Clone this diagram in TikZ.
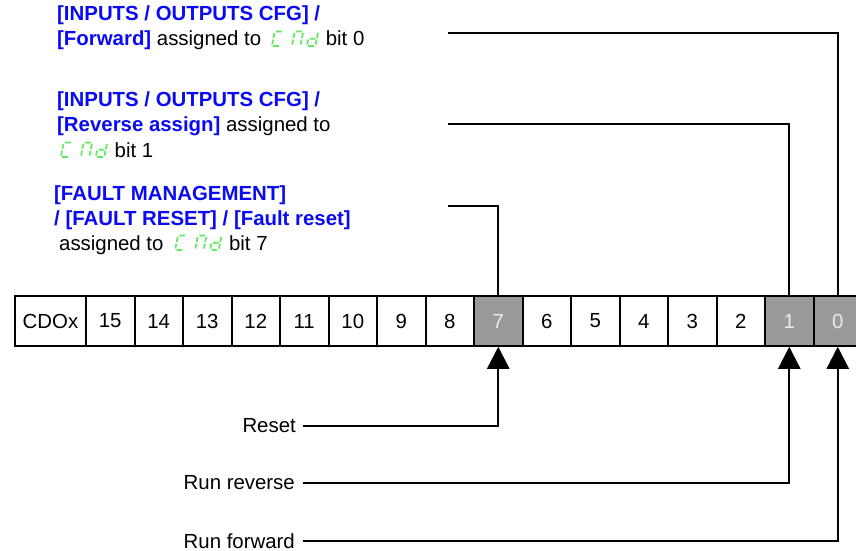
\documentclass[tikz,border=0pt]{standalone}
\usepackage{fontspec}
\setmainfont{Liberation Sans}
\usetikzlibrary{arrows.meta}
\definecolor{ablue}{RGB}{10,10,245}
\definecolor{segg}{RGB}{95,235,95}
\definecolor{cellgray}{RGB}{153,153,153}
\definecolor{lightnum}{RGB}{235,235,235}
\newcommand{\segglyphs}{\tikz[baseline=0pt,x=1pt,y=1pt,xslant=0.2,line width=1.7pt,line cap=butt]{%
  \draw[segg] (1.4,14.5)--(7.1,14.5) (0,13.1)--(0,8.1) (0,6.4)--(0,1.4) (1.4,0)--(7.1,0);
  \draw[segg] (21.4,14.5)--(27.1,14.5) (20,13.1)--(20,8.1) (20,6.4)--(20,1.4) (28.5,13.1)--(28.5,8.1) (28.5,6.4)--(28.5,1.4);
  \draw[segg] (43.5,13.1)--(43.5,8.1) (43.5,6.4)--(43.5,1.4) (36.4,7.25)--(42.1,7.25) (35,6.4)--(35,1.4) (36.4,0)--(42.1,0);
}}
\newcommand{\bb}[1]{{\bfseries\color{ablue}#1}}
\tikzset{
  txt/.style={inner sep=0pt, anchor=base west, font=\fontsize{20.4}{25}\selectfont},
  lbl/.style={inner sep=0pt, anchor=east, font=\fontsize{20.4}{25}\selectfont},
  cellbox/.style={draw=black, line width=2pt, minimum height=49.5pt, minimum width=48.5pt,
    inner sep=0pt, fill=white, font=\fontsize{20.4}{24}\selectfont},
  graycell/.style={cellbox, fill=cellgray, text=lightnum},
  wire/.style={line width=2.4pt},
  uparrow/.style={wire, -{Triangle[width=22pt,length=22pt]}}
}
\begin{document}
\begin{tikzpicture}[x=1pt,y=-1pt]
\clip (0,0) rectangle (856,551);
\fill[white] (0,0) rectangle (856,551);
% text blocks
\node[txt] (b1a) at (57,21) {\bb{[INPUTS / OUTPUTS CFG] /}};
\node[txt] (b1b) at (57,46) {\bb{[Forward]} assigned to\hspace{10pt}\segglyphs\hspace{7pt}bit 0};
\node[txt] (b2a) at (57,106) {\bb{[INPUTS / OUTPUTS CFG] /}};
\node[txt] (b2b) at (57,131) {\bb{[Reverse assign]} assigned to};
\node[txt] (b2c) at (57,157) {\hspace{3pt}\segglyphs\hspace{7pt}bit 1};
\node[txt] (b3a) at (54,200) {\bb{[FAULT MANAGEMENT]}};
\node[txt] (b3b) at (54,225) {\bb{/ [FAULT RESET] / [Fault reset]}};
\node[txt] (b3c) at (59,250) {assigned to\hspace{11pt}\segglyphs\hspace{7pt}bit 7};
% register row
\node[cellbox, minimum width=71pt] (cdox) at (50.5,321) {CDOx};
\foreach \b/\st in {15/cellbox,14/cellbox,13/cellbox,12/cellbox,11/cellbox,10/cellbox,9/cellbox,8/cellbox,
  7/graycell,6/cellbox,5/cellbox,4/cellbox,3/cellbox,2/cellbox,1/graycell,0/graycell}{
  \pgfmathsetmacro\cx{86+(15-\b)*48.5+24.25}
  \node[\st] (c\b) at (\cx,321) {\b};
}
% upper connectors
\coordinate (t0) at (448,33);
\coordinate (t1) at (448,124);
\coordinate (t7) at (448,206);
\draw[wire] (t0) -| (c0.north);
\draw[wire] (t1) -| (c1.north);
\draw[wire] (t7) -| (c7.north);
% lower labels and arrows
\node[lbl] (lreset) at (296,426) {Reset};
\node[lbl] (lrev) at (295,483) {Run reverse};
\node[lbl] (lfwd) at (295,541) {Run forward};
\draw[uparrow, shorten <=7pt] (lreset.east) -| (c7.south);
\draw[uparrow, shorten <=8pt] (lrev.east) -| (c1.south);
\draw[uparrow, shorten <=8pt] (lfwd.east) -| (c0.south);
\end{tikzpicture}
\end{document}
